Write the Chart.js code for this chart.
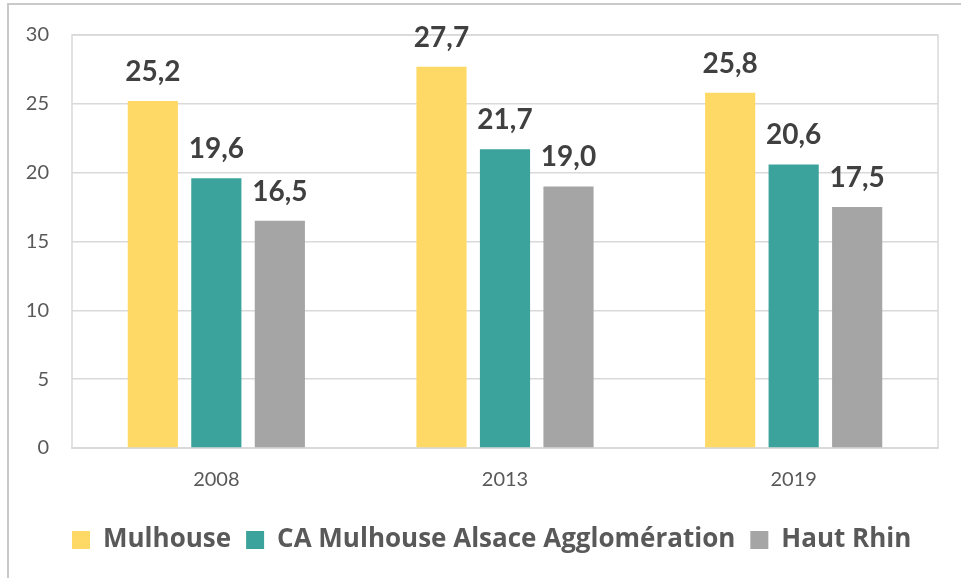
<!DOCTYPE html>
<html>
<head>
<meta charset="utf-8">
<script src="https://cdn.jsdelivr.net/npm/chart.js@4.4.1/dist/chart.umd.min.js"></script>
<style>
  html, body { margin: 0; padding: 0; background: #fff; }
  #wrap { width: 961px; height: 578px; }
</style>
</head>
<body>
<div id="wrap"><canvas id="chart" width="961" height="578"></canvas></div>
<script>
// years on the x axis
const years = ["2008", "2013", "2019"];

// one series per area
const mulhouse = [25.2, 27.7, 25.8];
const caMulhouse = [19.6, 21.7, 20.6];
const hautRhin = [16.5, 19.0, 17.5];

const seriesNames = ["Mulhouse", "CA Mulhouse Alsace Agglomération", "Haut Rhin"];
const yTicks = [0, 5, 10, 15, 20, 25, 30];

const colors = ["#FFD966", "#3BA39B", "#A5A5A5"];
const gridColor = "#d9d9d9";
const fontFamily = "Lato, 'Open Sans', sans-serif";

// value above each bar, french decimal comma
const barLabels = {
  id: "barLabels",
  afterDatasetsDraw(chart) {
    const ctx = chart.ctx;
    ctx.save();
    ctx.font = "bold 28px " + fontFamily;
    ctx.fillStyle = "#404040";
    ctx.textAlign = "center";
    ctx.textBaseline = "alphabetic";
    chart.data.datasets.forEach((ds, i) => {
      chart.getDatasetMeta(i).data.forEach((bar, j) => {
        const txt = ds.data[j].toFixed(1).replace(".", ",");
        ctx.fillText(txt, bar.x, bar.y - 20);
      });
    });
    ctx.restore();
  },
};

// plot area box and the outer frame lines
const frames = {
  id: "frames",
  beforeDatasetsDraw(chart) {
    const { ctx, chartArea: a } = chart;
    ctx.save();
    ctx.strokeStyle = gridColor;
    ctx.lineWidth = 1.5;
    ctx.strokeRect(a.left, a.top, a.right - a.left, a.bottom - a.top);
    ctx.strokeStyle = "#c9c9c9";
    ctx.lineWidth = 2;
    ctx.beginPath();
    ctx.moveTo(8, 578);
    ctx.lineTo(8, 4);
    ctx.lineTo(961, 4);
    ctx.stroke();
    ctx.restore();
  },
};

// legend row starts at the left edge of the plot area
const legendOffset = {
  id: "legendOffset",
  afterLayout(chart) {
    const lg = chart.legend;
    lg.left = chart.chartArea.left - lg.options.labels.padding;
    lg.right = chart.width;
  },
};

const data = {
  labels: years,
  datasets: [
    { label: seriesNames[0], data: mulhouse, backgroundColor: colors[0] },
    { label: seriesNames[1], data: caMulhouse, backgroundColor: colors[1] },
    { label: seriesNames[2], data: hautRhin, backgroundColor: colors[2] },
  ],
};

const config = {
  type: "bar",
  data: data,
  options: {
    responsive: false,
    animation: false,
    categoryPercentage: 0.66,
    barPercentage: 0.79,
    layout: { padding: { top: 34, right: 23, left: 0, bottom: 15 } },
    plugins: {
      tooltip: { enabled: false },
      legend: {
        position: "bottom",
        align: "start",
        labels: {
          boxWidth: 18,
          boxHeight: 18,
          padding: 15,
          color: "#595959",
          font: { family: "'Open Sans', sans-serif", size: 26, weight: "bold" },
        },
      },
    },
    scales: {
      x: {
        grid: { display: false, drawTicks: false },
        border: { display: true, color: gridColor, width: 1.5 },
        ticks: { color: "#595959", font: { family: fontFamily, size: 20 }, padding: 20 },
        afterFit: (s) => { s.height = 64; },
      },
      y: {
        min: 0,
        max: 30,
        afterBuildTicks: (s) => { s.ticks = yTicks.map((v) => ({ value: v })); },
        grid: { color: gridColor, lineWidth: 1.5, drawTicks: false },
        border: { display: false },
        ticks: { color: "#595959", font: { family: fontFamily, size: 20 }, padding: 23 },
        afterFit: (s) => { s.width = 72; },
      },
    },
  },
  plugins: [frames, barLabels, legendOffset],
};

const myChart = new Chart(document.getElementById("chart"), config);
</script>
</body>
</html>
